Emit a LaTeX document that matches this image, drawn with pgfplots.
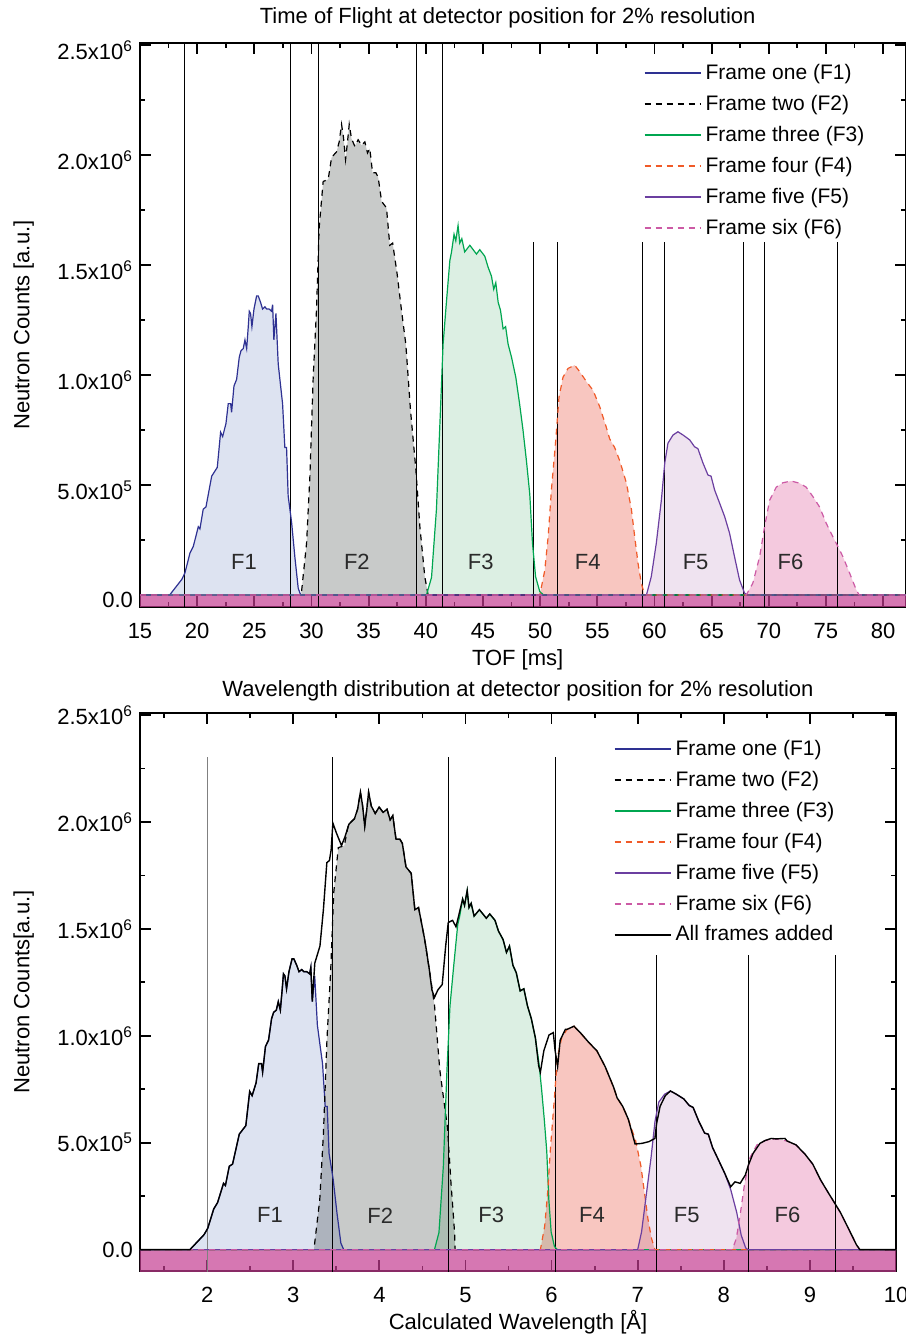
\documentclass[border=0pt]{standalone}
\usepackage{fontspec}
\setmainfont{Liberation Sans}
\usepackage{pgfplots}
\usepackage{pgfplotstable}
\pgfplotsset{compat=1.18}

\definecolor{fOneLine}{HTML}{2E3192}
\definecolor{fOneFill}{HTML}{DDE3F1}
\definecolor{fTwoFill}{HTML}{C8CAC9}
\definecolor{fThreeLine}{HTML}{00A650}
\definecolor{fThreeFill}{HTML}{DCEFE3}
\definecolor{fFourLine}{HTML}{F05A28}
\definecolor{fFourFill}{HTML}{F8C6C0}
\definecolor{fFiveLine}{HTML}{6B3FA0}
\definecolor{fFiveFill}{HTML}{EFE3F0}
\definecolor{fSixLine}{HTML}{CC5AA5}
\definecolor{fSixFill}{HTML}{F4C9DE}
\definecolor{bandpink}{rgb}{0.77,0.24,0.57}
\definecolor{labelgray}{HTML}{2A2A2A}

% ---------- time of flight (ms) vs counts (10^6) ----------
\pgfplotstableread{
x y
15 0
17.6 0
18.2 0.04
18.65 0.07
18.93 0.10
19.37 0.19
19.66 0.22
20.10 0.31
20.24 0.30
20.53 0.39
20.77 0.40
21.27 0.54
21.76 0.58
22.05 0.74
22.23 0.72
22.52 0.78
22.72 0.87
22.93 0.87
23.01 0.83
23.22 0.95
23.45 0.98
23.68 1.08
23.83 1.11
24.03 1.12
24.18 1.16
24.33 1.12
24.47 1.22
24.56 1.29
24.67 1.28
24.79 1.22
24.97 1.30
25.20 1.36
25.34 1.36
25.55 1.33
25.72 1.30
25.93 1.31
26.08 1.30
26.30 1.30
26.51 1.29
26.60 1.32
26.71 1.16
26.89 1.28
27.09 1.05
27.30 0.95
27.47 0.87
27.67 0.67
27.82 0.67
27.96 0.45
28.26 0.33
28.55 0.17
28.84 0.03
29.05 0
82 0
}\fOneT

\pgfplotstableread{
x y
15 0
29.10 0
29.57 0.235
29.86 0.54
30.15 0.99
30.44 1.30
30.67 1.67
31.02 1.88
31.46 1.89
31.76 1.99
32.19 2.015
32.42 2.06
32.63 2.14
32.80 2.08
32.98 1.98
33.15 2.06
33.30 2.14
33.50 2.075
33.79 2.04
34.08 2.07
34.38 2.045
34.67 2.06
34.90 2.01
35.10 2.03
35.34 1.92
35.63 1.92
35.83 1.90
36.13 1.79
36.56 1.76
36.85 1.59
37.10 1.60
37.49 1.46
37.87 1.295
38.25 1.14
38.66 0.84
39.13 0.57
39.48 0.31
39.91 0.083
40.20 0
82 0
}\fTwoT

\pgfplotstableread{
x y
15 0
40.06 0
40.50 0.08
40.93 0.39
41.28 0.84
41.51 1.14
41.80 1.33
42.10 1.52
42.25 1.56
42.47 1.64
42.62 1.61
42.82 1.68
42.97 1.60
43.15 1.62
43.40 1.56
43.85 1.59
44.14 1.57
44.43 1.55
44.72 1.57
45.16 1.54
45.45 1.49
45.74 1.45
45.94 1.39
46.12 1.42
46.33 1.33
46.53 1.295
46.76 1.21
46.98 1.22
47.20 1.14
47.50 1.08
47.87 0.99
48.20 0.87
48.50 0.75
48.80 0.61
49.09 0.46
49.33 0.235
49.60 0.083
49.97 0.015
50.30 0
82 0
}\fThreeT

\pgfplotstableread{
x y
15 0
49.97 0
50.40 0.11
50.70 0.265
50.99 0.48
51.36 0.70
51.65 0.90
52.00 0.99
52.44 1.03
53.02 1.045
53.46 1.015
54.05 0.97
54.63 0.93
55.21 0.856
55.80 0.76
56.08 0.71
56.52 0.67
56.96 0.61
57.54 0.51
57.98 0.39
58.27 0.265
58.56 0.144
58.85 0.053
59.14 0
82 0
}\fFourT

\pgfplotstableread{
x y
15 0
59.30 0
59.72 0.083
60.16 0.235
60.60 0.43
60.90 0.60
61.18 0.69
61.62 0.727
62.05 0.742
62.50 0.727
63.08 0.705
63.50 0.674
63.80 0.665
64.24 0.60
64.68 0.545
64.95 0.54
65.26 0.477
65.70 0.417
66.14 0.356
66.57 0.28
67.00 0.174
67.44 0.068
67.88 0.008
68.10 0
82 0
}\fFiveT

\pgfplotstableread{
x y
15 0
68.03 0
68.60 0.053
69.20 0.174
69.63 0.31
70.07 0.43
70.65 0.49
71.23 0.51
71.95 0.518
72.69 0.508
73.27 0.49
73.86 0.447
74.44 0.40
75.02 0.326
75.60 0.265
76.04 0.22
76.48 0.174
77.06 0.10
77.65 0.023
77.90 0
82 0
}\fSixT

% ---------- calculated wavelength (Angstrom) vs counts (10^6) ----------
\pgfplotstableread{
x y
1.0 0
1.80 0
1.894 0.04
1.964 0.07
2.007 0.10
2.076 0.19
2.121 0.22
2.190 0.31
2.212 0.30
2.257 0.39
2.295 0.40
2.373 0.54
2.449 0.58
2.494 0.74
2.522 0.72
2.568 0.78
2.599 0.87
2.631 0.87
2.644 0.83
2.677 0.95
2.713 0.98
2.748 1.08
2.772 1.11
2.803 1.12
2.826 1.16
2.850 1.12
2.872 1.22
2.886 1.29
2.903 1.28
2.922 1.22
2.950 1.30
2.986 1.36
3.007 1.36
3.040 1.33
3.067 1.30
3.099 1.31
3.123 1.30
3.157 1.30
3.190 1.29
3.204 1.32
3.221 1.16
3.249 1.28
3.280 1.05
3.313 0.95
3.340 0.87
3.371 0.67
3.394 0.67
3.416 0.45
3.463 0.33
3.508 0.17
3.553 0.03
3.586 0
10.5 0
}\fOneL

\pgfplotstableread{
x y
1.0 0
3.240 0
3.308 0.235
3.350 0.54
3.392 0.99
3.434 1.30
3.470 1.67
3.523 1.88
3.593 1.89
3.641 1.99
3.710 2.015
3.747 2.06
3.780 2.14
3.804 2.08
3.830 1.98
3.854 2.06
3.875 2.14
3.906 2.075
3.952 2.04
3.997 2.07
4.044 2.045
4.089 2.06
4.125 2.01
4.156 2.03
4.193 1.92
4.238 1.92
4.267 1.90
4.309 1.79
4.370 1.76
4.412 1.59
4.455 1.60
4.522 1.46
4.586 1.295
4.641 1.14
4.702 0.84
4.791 0.57
4.832 0.31
4.873 0.083
4.880 0
10.5 0
}\fTwoL

\pgfplotstableread{
x y
1.0 0
4.640 0
4.692 0.08
4.743 0.39
4.785 0.84
4.820 1.14
4.864 1.33
4.910 1.52
4.933 1.56
4.967 1.64
4.989 1.61
5.020 1.68
5.041 1.60
5.066 1.62
5.100 1.56
5.162 1.59
5.202 1.57
5.242 1.55
5.282 1.57
5.343 1.54
5.383 1.49
5.437 1.45
5.476 1.39
5.511 1.42
5.551 1.33
5.590 1.295
5.635 1.21
5.678 1.22
5.720 1.14
5.765 1.08
5.812 0.99
5.854 0.87
5.884 0.75
5.915 0.61
5.944 0.46
5.968 0.235
5.995 0.083
6.033 0.015
6.066 0
10.5 0
}\fThreeL

\pgfplotstableread{
x y
1.0 0
5.870 0
5.920 0.11
5.954 0.265
5.988 0.48
6.031 0.70
6.068 0.90
6.117 0.99
6.179 1.03
6.260 1.045
6.333 1.015
6.430 0.97
6.526 0.93
6.622 0.856
6.720 0.76
6.761 0.71
6.826 0.67
6.891 0.61
6.976 0.51
7.038 0.39
7.079 0.265
7.119 0.144
7.160 0.053
7.200 0
10.5 0
}\fFourL

\pgfplotstableread{
x y
1.0 0
7.000 0
7.045 0.083
7.093 0.235
7.155 0.43
7.201 0.60
7.245 0.69
7.313 0.727
7.380 0.742
7.448 0.727
7.535 0.705
7.599 0.674
7.644 0.665
7.710 0.60
7.777 0.545
7.820 0.54
7.870 0.477
7.941 0.417
8.012 0.356
8.081 0.28
8.150 0.174
8.202 0.068
8.254 0.008
8.280 0
10.5 0
}\fFiveL

\pgfplotstableread{
x y
1.0 0
8.100 0
8.146 0.053
8.194 0.174
8.242 0.31
8.304 0.43
8.385 0.49
8.478 0.51
8.605 0.518
8.736 0.508
8.838 0.49
8.942 0.447
9.033 0.40
9.124 0.326
9.215 0.265
9.284 0.22
9.354 0.174
9.446 0.10
9.540 0.023
9.580 0
10.5 0
}\fSixL

\pgfplotstableread{
x y
1.0 0
1.80 0
1.894 0.04
1.964 0.07
2.007 0.10
2.076 0.19
2.121 0.22
2.190 0.31
2.212 0.30
2.257 0.39
2.295 0.40
2.373 0.54
2.449 0.58
2.494 0.74
2.522 0.72
2.568 0.78
2.599 0.87
2.631 0.87
2.644 0.83
2.677 0.95
2.713 0.98
2.748 1.08
2.772 1.11
2.803 1.12
2.826 1.16
2.850 1.12
2.872 1.22
2.886 1.29
2.903 1.28
2.922 1.22
2.950 1.30
2.986 1.36
3.007 1.36
3.040 1.33
3.067 1.30
3.099 1.31
3.123 1.30
3.157 1.30
3.190 1.29
3.204 1.32
3.221 1.16
3.25 1.34
3.31 1.42
3.35 1.59
3.39 1.81
3.42 1.82
3.44 1.87
3.46 1.995
3.50 1.95
3.56 1.89
3.60 1.93
3.647 1.99
3.710 2.015
3.747 2.06
3.780 2.14
3.804 2.08
3.830 1.98
3.854 2.06
3.875 2.14
3.906 2.075
3.952 2.04
3.997 2.07
4.044 2.045
4.089 2.06
4.125 2.01
4.156 2.03
4.193 1.92
4.238 1.92
4.267 1.90
4.309 1.79
4.370 1.76
4.412 1.59
4.455 1.60
4.522 1.46
4.54 1.417
4.58 1.31
4.61 1.215
4.64 1.18
4.68 1.215
4.73 1.24
4.77 1.42
4.80 1.53
4.85 1.54
4.89 1.51
4.92 1.56
4.967 1.64
4.989 1.61
5.020 1.68
5.041 1.60
5.066 1.62
5.100 1.56
5.162 1.59
5.202 1.57
5.242 1.55
5.282 1.57
5.343 1.54
5.383 1.49
5.437 1.45
5.476 1.39
5.511 1.42
5.551 1.33
5.590 1.295
5.635 1.21
5.678 1.22
5.720 1.14
5.765 1.08
5.812 0.99
5.85 0.86
5.87 0.83
5.91 0.93
5.97 1.004
6.02 1.015
6.04 0.934
6.07 0.856
6.10 0.98
6.16 1.03
6.179 1.03
6.260 1.045
6.333 1.015
6.430 0.97
6.526 0.93
6.622 0.856
6.720 0.76
6.761 0.71
6.826 0.67
6.891 0.61
6.97 0.494
7.05 0.497
7.13 0.505
7.20 0.52
7.22 0.59
7.26 0.67
7.32 0.72
7.380 0.742
7.448 0.727
7.535 0.705
7.599 0.674
7.644 0.665
7.710 0.60
7.777 0.545
7.820 0.54
7.870 0.477
7.941 0.417
8.012 0.356
8.08 0.294
8.13 0.317
8.19 0.31
8.25 0.349
8.29 0.40
8.34 0.45
8.42 0.497
8.478 0.51
8.55 0.52
8.605 0.518
8.71 0.52
8.736 0.508
8.838 0.49
8.942 0.447
9.033 0.40
9.124 0.326
9.215 0.265
9.284 0.22
9.354 0.174
9.446 0.10
9.540 0.023
9.580 0
10.5 0
}\allFrames

\pgfplotsset{
  framepanel/.style={
    scale only axis,
    axis line style={line width=1pt},
    tick align=inside,
    major tick length=5.5pt,
    minor tick length=2.5pt,
    tick style={black, line width=0.9pt},
    /pgf/number format/assume math mode=true,
    ticklabel style={font=\fontsize{11}{13}\selectfont},
    xticklabel style={yshift=-4.5pt},
    label style={font=\fontsize{11}{13}\selectfont},
    title style={font=\fontsize{11}{13}\selectfont, anchor=center, yshift=-6pt},
    ytick={0,0.5,1,1.5,2,2.5},
    yticklabels={0.0,{5.0x10\textsuperscript{5}},{1.0x10\textsuperscript{6}},{1.5x10\textsuperscript{6}},{2.0x10\textsuperscript{6}},{2.5x10\textsuperscript{6}}},
    minor ytick={0.25,0.75,1.25,1.75,2.25},
    ylabel style={anchor=center},
    xlabel style={anchor=center},
    legend cell align=left,
    legend style={draw=none, fill=none, inner sep=0pt, row sep=2.35pt,
      font=\fontsize{10.5}{12.5}\selectfont},
    legend image code/.code={\draw[#1, line width=1pt] (0pt,0pt) -- (28pt,0pt);},
  },
  areafill/.style={draw=none, fill=#1, blend mode=multiply, forget plot},
  frameline/.style={line width=0.6pt},
  framedash/.style={line width=0.6pt, dash pattern=on 3pt off 2.5pt},
  marker/.style={black, line width=0.5pt, forget plot},
}

\begin{document}
\begin{tikzpicture}

% ================= time of flight =================
\begin{axis}[framepanel,
  at={(70pt,364pt)}, anchor=south west,
  width=383pt, height=282pt,
  xmin=15, xmax=82, ymin=-0.055, ymax=2.51,
  xtick={15,20,...,80},
  minor xtick={17.5,22.5,...,77.5},
  yticklabel style={yshift=-2.5pt},
  title={Time of Flight at detector position for 2\% resolution},
  title style={at={(axis description cs:0.48,1.044)}},
  xlabel={TOF [ms]},
  xlabel style={at={(axis description cs:0.493,-0.094)}},
  ylabel={Neutron Counts [a.u.]},
  ylabel style={at={(axis description cs:-0.152,0.5)}},
  legend style={at={(0.657,0.97)}, anchor=north west},
]
\addplot[draw=none, fill=bandpink, fill opacity=0.7, forget plot]
  coordinates {(14,0) (83,0) (83,-0.3) (14,-0.3)} -- cycle;

\addplot[areafill=fOneFill] table {\fOneT} \closedcycle;
\addplot[areafill=fTwoFill] table {\fTwoT} \closedcycle;
\addplot[areafill=fThreeFill] table {\fThreeT} \closedcycle;
\addplot[areafill=fFourFill] table {\fFourT} \closedcycle;
\addplot[areafill=fFiveFill] table {\fFiveT} \closedcycle;
\addplot[areafill=fSixFill] table {\fSixT} \closedcycle;

% frame boundaries
\addplot[marker] coordinates {(18.93,-0.3) (18.93,2.6)};
\addplot[marker] coordinates {(28.17,-0.3) (28.17,2.6)};
\addplot[marker] coordinates {(30.59,-0.3) (30.59,2.6)};
\addplot[marker] coordinates {(39.19,-0.3) (39.19,2.6)};
\addplot[marker] coordinates {(41.43,-0.3) (41.43,2.6)};
\addplot[marker] coordinates {(49.38,-0.3) (49.38,1.605)};
\addplot[marker] coordinates {(51.48,-0.3) (51.48,1.605)};
\addplot[marker] coordinates {(58.94,-0.3) (58.94,1.605)};
\addplot[marker] coordinates {(60.92,-0.3) (60.92,1.605)};
\addplot[marker] coordinates {(67.82,-0.3) (67.82,1.605)};
\addplot[marker] coordinates {(69.60,-0.3) (69.60,1.605)};
\addplot[marker] coordinates {(76.04,-0.3) (76.04,1.605)};

\addplot[fOneLine, frameline] table {\fOneT};
\addlegendentry{Frame one (F1)}
\addplot[black, framedash] table {\fTwoT};
\addlegendentry{Frame two (F2)}
\addplot[fThreeLine, frameline] table {\fThreeT};
\addlegendentry{Frame three (F3)}
\addplot[fFourLine, framedash] table {\fFourT};
\addlegendentry{Frame four (F4)}
\addplot[fFiveLine, frameline] table {\fFiveT};
\addlegendentry{Frame five (F5)}
\addplot[fSixLine, framedash] table {\fSixT};
\addlegendentry{Frame six (F6)}

\begin{scope}[font=\fontsize{11}{13}\selectfont, text=labelgray]
\node at (axis cs:24.09,0.15) {F1};
\node at (axis cs:33.97,0.15) {F2};
\node at (axis cs:44.80,0.15) {F3};
\node at (axis cs:54.16,0.15) {F4};
\node at (axis cs:63.60,0.15) {F5};
\node at (axis cs:71.90,0.15) {F6};
\end{scope}
\end{axis}

% ================= wavelength =================
\begin{axis}[framepanel,
  at={(70pt,32pt)}, anchor=south west,
  width=378pt, height=279pt,
  xmin=1.22, xmax=10, ymin=-0.1, ymax=2.51,
  xtick={2,3,...,10},
  minor xtick={1.5,2.5,...,9.5},
  title={Wavelength distribution at detector position for 2\% resolution},
  title style={at={(axis description cs:0.5,1.039)}},
  xlabel={Calculated Wavelength [Å]},
  xlabel style={at={(axis description cs:0.5,-0.0914)}},
  ylabel={Neutron Counts[a.u.]},
  ylabel style={at={(axis description cs:-0.154,0.5)}},
  legend style={at={(0.626,0.959)}, anchor=north west},
]
\addplot[draw=none, fill=bandpink, fill opacity=0.7, forget plot]
  coordinates {(1,0) (10.5,0) (10.5,-0.3) (1,-0.3)} -- cycle;

\addplot[areafill=fOneFill] table {\fOneL} \closedcycle;
\addplot[areafill=fTwoFill] table {\fTwoL} \closedcycle;
\addplot[areafill=fThreeFill] table {\fThreeL} \closedcycle;
\addplot[areafill=fFourFill] table {\fFourL} \closedcycle;
\addplot[areafill=fFiveFill] table {\fFiveL} \closedcycle;
\addplot[areafill=fSixFill] table {\fSixL} \closedcycle;

% frame boundaries
\addplot[gray, line width=0.5pt, forget plot] coordinates {(2.0,-0.3) (2.0,2.306)};
\addplot[marker] coordinates {(3.46,-0.3) (3.46,2.306)};
\addplot[marker] coordinates {(4.80,-0.3) (4.80,2.306)};
\addplot[marker] coordinates {(6.05,-0.3) (6.05,2.306)};
\addplot[marker] coordinates {(7.22,-0.3) (7.22,1.379)};
\addplot[marker] coordinates {(8.29,-0.3) (8.29,1.379)};
\addplot[marker] coordinates {(9.30,-0.3) (9.30,1.379)};

\addplot[fOneLine, frameline] table {\fOneL};
\addlegendentry{Frame one (F1)}
\addplot[black, framedash] table {\fTwoL};
\addlegendentry{Frame two (F2)}
\addplot[fThreeLine, frameline] table {\fThreeL};
\addlegendentry{Frame three (F3)}
\addplot[fFourLine, framedash] table {\fFourL};
\addlegendentry{Frame four (F4)}
\addplot[fFiveLine, frameline] table {\fFiveL};
\addlegendentry{Frame five (F5)}
\addplot[fSixLine, framedash] table {\fSixL};
\addlegendentry{Frame six (F6)}
\addplot[black, line width=0.7pt] table {\allFrames};
\addlegendentry{All frames added}

\begin{scope}[font=\fontsize{11}{13}\selectfont, text=labelgray]
\node at (axis cs:2.73,0.16) {F1};
\node at (axis cs:4.01,0.16) {F2};
\node at (axis cs:5.30,0.16) {F3};
\node at (axis cs:6.47,0.16) {F4};
\node at (axis cs:7.57,0.16) {F5};
\node at (axis cs:8.74,0.16) {F6};
\end{scope}
\end{axis}

\pgfresetboundingbox
\path[use as bounding box] (0,0) rectangle (453pt,667.5pt);
\end{tikzpicture}
\end{document}
